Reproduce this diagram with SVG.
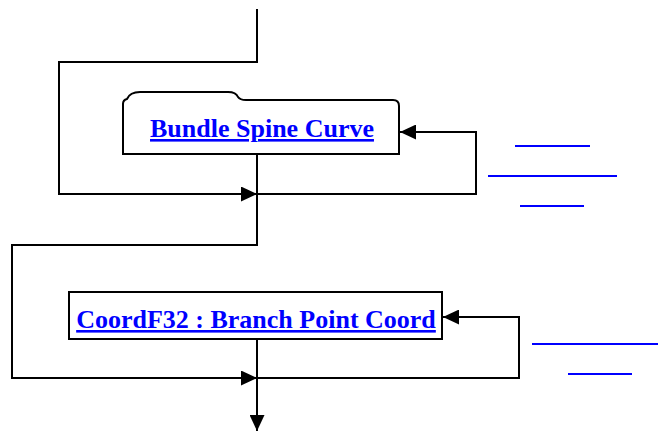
<svg xmlns="http://www.w3.org/2000/svg" width="658" height="433" viewBox="0 0 658 433">
<style>
.ln{fill:none;stroke:#000;stroke-width:2}
.box{fill:#fff;stroke:#000;stroke-width:2}
.lbl{font-family:"Liberation Serif","Times New Roman",serif;font-weight:bold;font-size:26px;fill:#0000ff;text-decoration:underline;text-anchor:middle}
.ul{stroke:#0000ff;stroke-width:2}
</style>
<defs>
<marker id="ah" markerWidth="16" markerHeight="15" refX="16" refY="7.5" orient="auto" markerUnits="userSpaceOnUse">
<path d="M0,0 L16,7.5 L0,15 Z" fill="#000"/>
</marker>
</defs>
<rect width="658" height="433" fill="#fff"/>
<g id="connectors">
<path class="ln" d="M257,9 V62 H59 V194 H257" marker-end="url(#ah)"/>
<path class="ln" d="M257,154 V245 H12 V378 H257" marker-end="url(#ah)"/>
<path class="ln" d="M257,194 H476 V132 H400" marker-end="url(#ah)"/>
<path class="ln" d="M257,339 V431" marker-end="url(#ah)"/>
<path class="ln" d="M257,378 H519 V317 H443" marker-end="url(#ah)"/>
</g>
<g id="node-bundle-spine-curve">
<path class="box" d="M123,154 V104 Q123,100 127,99 Q130,92 140,92 H228 Q236,92 238,97 Q240,100 246,100 H393 Q399,100 399,106 V154 Z"/>
<text class="lbl" x="262" y="137">Bundle Spine Curve</text>
</g>
<g id="node-branch-point-coord">
<rect class="box" x="69" y="292" width="373" height="47"/>
<text class="lbl" x="256" y="328">CoordF32 : Branch Point Coord</text>
</g>
<g id="links">
<line class="ul" x1="515" y1="146" x2="590" y2="146"/>
<line class="ul" x1="488" y1="176" x2="617" y2="176"/>
<line class="ul" x1="520" y1="206" x2="584" y2="206"/>
<line class="ul" x1="532" y1="344" x2="658" y2="344"/>
<line class="ul" x1="568" y1="374" x2="632" y2="374"/>
</g>
</svg>
